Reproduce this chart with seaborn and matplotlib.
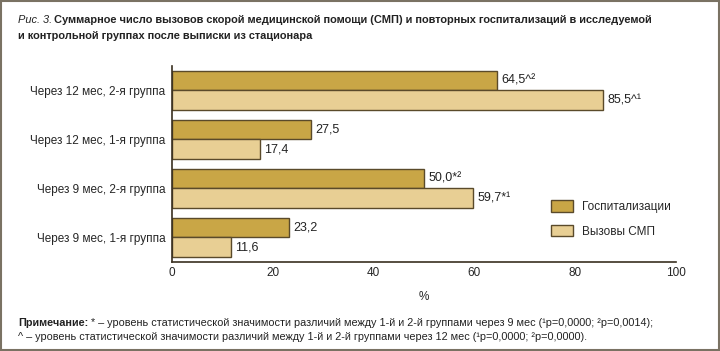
import numpy as np
import pandas as pd
import seaborn as sns
import matplotlib.pyplot as plt
from matplotlib.patches import Rectangle

groups = ['Через 12 мес, 2-я группа', 'Через 12 мес, 1-я группа',
          'Через 9 мес, 2-я группа', 'Через 9 мес, 1-я группа']
series = ['Госпитализации', 'Вызовы СМП']
hosp = [64.5, 27.5, 50.0, 23.2]
smp = [85.5, 17.4, 59.7, 11.6]
hosp_labels = ['64,5^²', '27,5', '50,0*²', '23,2']
smp_labels = ['85,5^¹', '17,4', '59,7*¹', '11,6']
xticks = [0, 20, 40, 60, 80, 100]

df = pd.DataFrame({
    'group': groups * 2,
    'series': [series[0]] * 4 + [series[1]] * 4,
    'value': hosp + smp,
})

sns.set_style('white')
plt.rcParams['font.family'] = ['Liberation Sans Narrow', 'Liberation Sans', 'DejaVu Sans']

edge = '#5a4a2a'
colors = {series[0]: '#c9a646', series[1]: '#e8cf94'}

fig = plt.figure(figsize=(7.2, 3.51), dpi=100)
ax = fig.add_axes([0.239, 0.254, 0.700, 0.558])
sns.barplot(data=df, y='group', x='value', hue='series', order=groups,
            hue_order=series, palette=colors, orient='h', width=0.8,
            edgecolor=edge, linewidth=1.0, saturation=1, ax=ax)

for cont, labs in zip(ax.containers, [hosp_labels, smp_labels]):
    ax.bar_label(cont, labels=labs, padding=3, fontsize=9, color='#222222')

ax.set_xlim(0, 100)
ax.set_ylim(3.5, -0.5)
ax.set_xticks(xticks)
ax.set_xticklabels([str(t) for t in xticks], fontsize=8.5)
ax.set_yticks(range(len(groups)))
ax.set_yticklabels(groups, fontsize=8.5)
ax.set_yticks(np.arange(-0.5, 3.5, 1), minor=True)
ax.tick_params(axis='y', which='major', length=0, pad=5)
ax.tick_params(axis='y', which='minor', direction='in', length=8, width=1, color='#6e6658')
ax.tick_params(axis='x', direction='in', length=5, width=1, color='#3a3020', pad=4)
ax.set_xlabel('%', fontsize=8.5, labelpad=8)
ax.set_ylabel('')
for s in ['top', 'right']:
    ax.spines[s].set_visible(False)
for s in ['left', 'bottom']:
    ax.spines[s].set_color('#3a3020')
    ax.spines[s].set_linewidth(1.2)

ax.legend(loc='lower right', bbox_to_anchor=(1.01, 0.07), frameon=False, fontsize=8.5,
          handlelength=1.9, handleheight=1.1, handletextpad=0.7, labelspacing=1.0)

fig.text(0.025, 0.935, 'Рис. 3.', fontsize=7.9, style='italic', color='#222222')
fig.text(0.075, 0.935, 'Суммарное число вызовов скорой медицинской помощи (СМП) и повторных госпитализаций в исследуемой',
         fontsize=7.9, weight='bold', color='#222222')
fig.text(0.025, 0.89, 'и контрольной группах после выписки из стационара',
         fontsize=7.9, weight='bold', color='#222222')
fig.text(0.025, 0.072, 'Примечание:', fontsize=7.8, weight='bold', color='#222222')
fig.text(0.127, 0.072, '* – уровень статистической значимости различий между 1-й и 2-й группами через 9 мес (¹p=0,0000; ²p=0,0014);',
         fontsize=7.8, color='#222222')
fig.text(0.025, 0.03, '^ – уровень статистической значимости различий между 1-й и 2-й группами через 12 мес (¹p=0,0000; ²p=0,0000).',
         fontsize=7.8, color='#222222')

fig.patches.append(Rectangle((0.002, 0.003), 0.996, 0.994, transform=fig.transFigure,
                             fill=False, edgecolor='#7a7263', linewidth=1.5))

fig.savefig('out.png', dpi=100)
